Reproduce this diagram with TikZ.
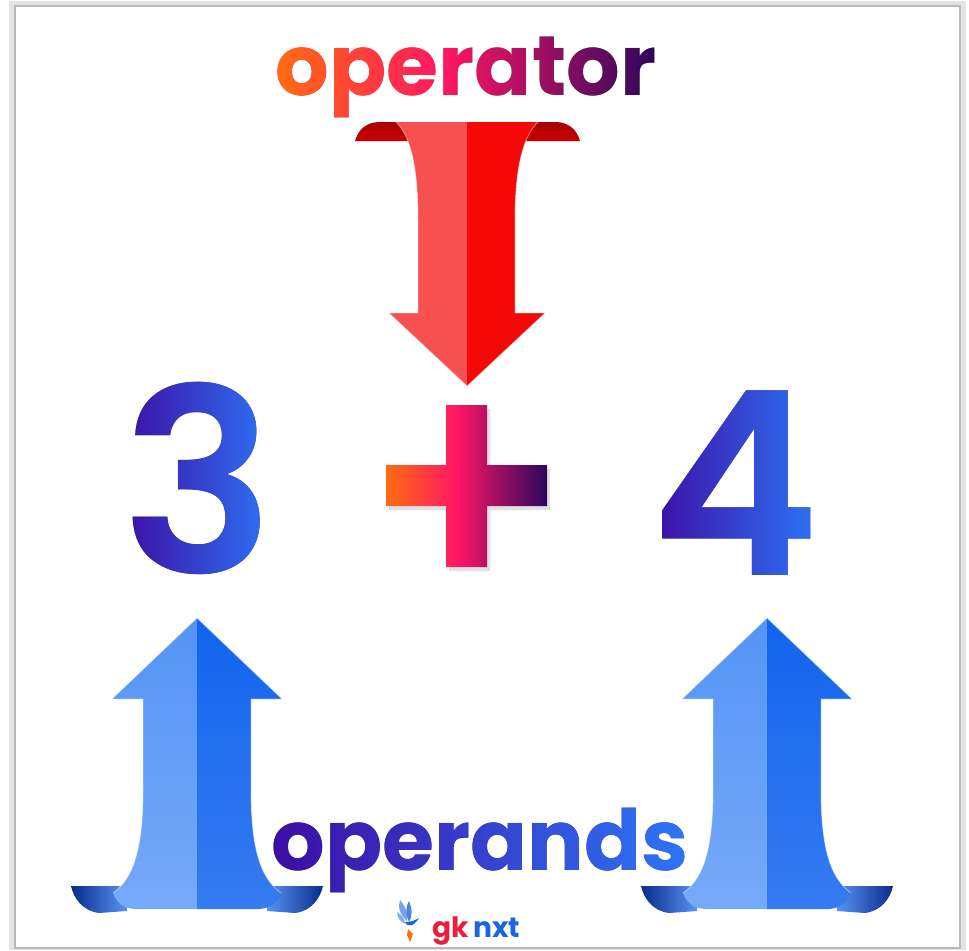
\documentclass[tikz,border=0pt]{standalone}
\usepackage{fontspec}
\newfontfamily\popfont{Poppins}
\newfontfamily\popsemi{Poppins SemiBold}

\definecolor{opOrange}{RGB}{255,108,16}
\definecolor{opPink}{RGB}{255,22,100}
\definecolor{opPurple}{RGB}{44,6,94}
\definecolor{numIndigo}{RGB}{62,12,164}
\definecolor{numBlue}{RGB}{44,118,246}
\definecolor{redLight}{RGB}{246,80,80}
\definecolor{redDeep}{RGB}{245,8,8}
\definecolor{redDark}{RGB}{165,0,0}
\definecolor{blueLight}{RGB}{84,148,246}
\definecolor{blueDeep}{RGB}{18,100,238}
\definecolor{blueDark}{RGB}{8,44,140}
\definecolor{logoRed}{RGB}{232,30,58}
\definecolor{logoBlue}{RGB}{26,102,224}

% orange -> pink -> purple, used by the plus and the top word
\pgfdeclarehorizontalshading{opgrad}{100bp}{color(0bp)=(opOrange); color(25bp)=(opOrange);
  color(47bp)=(opPink); color(75bp)=(opPurple); color(100bp)=(opPurple)}

\newcommand\digitfont{\popsemi\fontsize{146}{146}\selectfont}
\newcommand\wordfont{\popfont\bfseries\fontsize{48}{48}\selectfont}

\begin{document}
\begin{tikzpicture}[x=0.02cm, y=-0.02cm,
    gradword/.style={inner sep=0pt, anchor=base, text=black},
    tint/.style={blend mode=lighten},
    rim/.style={draw=white, draw opacity=0.45, line width=0.5pt}]
    \useasboundingbox (0,0) rectangle (969,950);

    % Page with its soft border
    \fill[gray!22] (9,1) rectangle (966,950);
    \fill[white] (15,6) rectangle (960,948);
    \draw[gray!55, line width=0.6pt] (15,6) rectangle (960,948);

    % Words and digits: black glyphs, then a gradient laid over them
    \node[gradword, font=\wordfont] (operator) at (466,95) {operator};
    \shade[tint, shading=opgrad] (operator.south west) rectangle (operator.north east);

    \node[gradword, font=\digitfont] (three) at (198,573) {3};
    \shade[tint, left color=numIndigo, right color=numBlue] (three.south west) rectangle (three.north east);
    \node[gradword, font=\digitfont] (four) at (735,575) {4};
    \shade[tint, left color=numIndigo, right color=numBlue] (four.south west) rectangle (four.north east);

    \node[gradword, font=\wordfont] (operands) at (480,870) {operands};
    \shade[tint, left color=numIndigo, right color=numBlue] (operands.south west) rectangle (operands.north east);

    % Plus sign
    \fill[black, opacity=0.12] (389,469) rectangle (550,510) (449,409) rectangle (490,571);
    \shade[shading=opgrad] (386,465) rectangle (547,506) (446,405) rectangle (487,567);

    % Red ribbon arrow pointing down
    \shade[top color=redDark, bottom color=red!80!black] (355,141) .. controls (358,130) and (366,122) .. (380,122)
        -- (410,122) -- (410,141) -- cycle;
    \shade[top color=redDark, bottom color=red!80!black] (580,141) .. controls (577,130) and (569,122) .. (555,122)
        -- (525,122) -- (525,141) -- cycle;
    \fill[redLight] (467,122) -- (396,122) .. controls (410,135) and (418,165) .. (418,220)
        -- (418,313) -- (389,313) -- (467,386) -- cycle;
    \fill[redDeep] (467,122) -- (538,122) .. controls (524,135) and (515,165) .. (515,220)
        -- (515,313) -- (545,313) -- (467,386) -- cycle;
    \draw[rim] (396,122) .. controls (410,135) and (418,165) .. (418,220) -- (418,313) -- (389,313) -- (467,386)
        -- (545,313) -- (515,313) -- (515,220) .. controls (515,165) and (524,135) .. (538,122);

    % Blue ribbon arrows pointing up
    \foreach \cx in {197,767} {
        \shade[left color=blueDark, right color=blueDeep!70] (\cx-126,886) -- (\cx-70,886) -- (\cx-70,911) -- (\cx-98,913)
            .. controls (\cx-114,911) and (\cx-123,899) .. (\cx-126,886) -- cycle;
        \shade[right color=blueDark, left color=blueDeep!70] (\cx+126,886) -- (\cx+70,886) -- (\cx+70,911) -- (\cx+98,913)
            .. controls (\cx+114,911) and (\cx+123,899) .. (\cx+126,886) -- cycle;
        \shade[top color=blueLight, bottom color=blueLight!80!white] (\cx,618) -- (\cx-85,699) -- (\cx-54,699)
            -- (\cx-54,790) .. controls (\cx-54,855) and (\cx-66,880) .. (\cx-84,893)
            .. controls (\cx-80,903) and (\cx-74,908) .. (\cx-62,909) -- (\cx,909) -- cycle;
        \shade[top color=blueDeep, bottom color=blueDeep!85!white] (\cx,618) -- (\cx+85,699) -- (\cx+54,699)
            -- (\cx+54,790) .. controls (\cx+54,855) and (\cx+66,880) .. (\cx+84,893)
            .. controls (\cx+80,903) and (\cx+74,908) .. (\cx+62,909) -- (\cx,909) -- cycle;
        \draw[rim] (\cx-84,893) .. controls (\cx-66,880) and (\cx-54,855) .. (\cx-54,790) -- (\cx-54,699)
            -- (\cx-85,699) -- (\cx,618) -- (\cx+85,699) -- (\cx+54,699) -- (\cx+54,790)
            .. controls (\cx+54,855) and (\cx+66,880) .. (\cx+84,893);
    }

    % Logo
    \node[inner sep=0pt, anchor=base west, font=\popfont\bfseries\fontsize{16}{16}\selectfont] (logo) at (432,937)
        {\textcolor{logoRed}{gk}\,\textcolor{logoBlue}{nxt}};
    \fill[logoBlue!60] (407,921) .. controls (399,914) and (398,906) .. (400,900) .. controls (405,906) and (409,914) .. (407,921);
    \fill[logoBlue!80] (409,922) .. controls (405,913) and (406,906) .. (409,901) .. controls (412,908) and (413,915) .. (409,922);
    \fill[cyan!60!blue!50] (405,924) .. controls (399,921) and (397,916) .. (397,912) .. controls (402,915) and (405,919) .. (405,924);
    \fill[logoBlue] (405,922) .. controls (408,928) and (414,926) .. (419,918) .. controls (414,921) and (410,922) .. (405,922);
    \fill[opOrange] (408,929) -- (413,934) -- (410,942) -- (407,935) -- cycle;
\end{tikzpicture}
\end{document}
